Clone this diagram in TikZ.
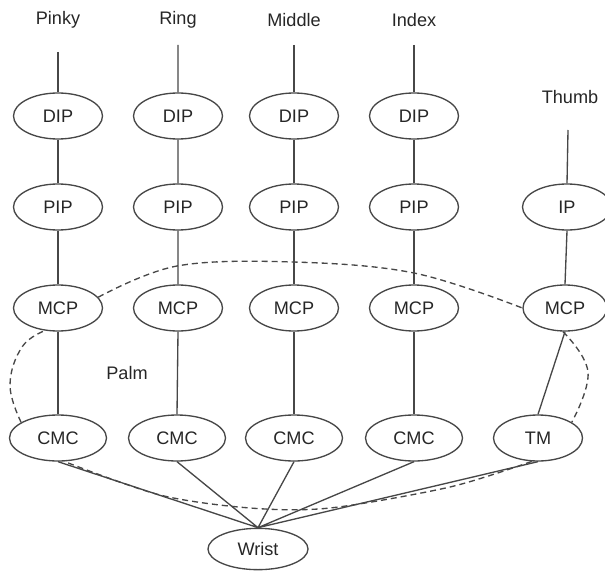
\documentclass[tikz,border=0pt]{standalone}
\usepackage{fontspec}
\setmainfont{Liberation Sans}
\usetikzlibrary{shapes.geometric}
\begin{document}
\begin{tikzpicture}[x=0.75pt,y=-0.75pt,
  every node/.style={font=\fontsize{13.6}{16}\selectfont, text=black!85},
  jnt/.style={ellipse, draw=black!72, line width=1pt, inner sep=0pt,
              minimum width=66.75pt, minimum height=34.5pt},
  wide/.style={jnt, minimum width=72.75pt},
  bone/.style={draw=black!72, line width=1pt},
  palm/.style={draw=black!72, line width=1pt, dash pattern=on 4.5pt off 3pt}]
\useasboundingbox (0,0) rectangle (605,570);
% labels
\node (lp) at (58,20) {Pinky};
\node (lr) at (178,20) {Ring};
\node (lm) at (294,20) {Middle};
\node (li) at (414,20) {Index};
\node (lt) at (570,97) {Thumb};
\node (lpalm) at (127,373) {Palm};
% tips
\coordinate (tp) at (58,52);
\coordinate (tr) at (178,45);
\coordinate (tmid) at (294,45);
\coordinate (ti) at (414,45);
\coordinate (tt) at (568,130);
% joints
\node[jnt] (pd) at (58,116) {DIP};
\node[jnt] (rd) at (178,116) {DIP};
\node[jnt] (md) at (294,116) {DIP};
\node[jnt] (id) at (414,116) {DIP};
\node[jnt] (pp) at (58,207) {PIP};
\node[jnt] (rp) at (178,207) {PIP};
\node[jnt] (mp) at (294,207) {PIP};
\node[jnt] (ip) at (414,207) {PIP};
\node[jnt] (tip) at (567,207) {IP};
\node[jnt] (pm) at (58,308) {MCP};
\node[jnt] (rm) at (178,308) {MCP};
\node[jnt] (mm) at (294,308) {MCP};
\node[jnt] (im) at (414,308) {MCP};
\node[jnt, minimum width=63pt] (tmcp) at (565,308) {MCP};
\node[wide] (pc) at (58,438) {CMC};
\node[wide] (rc) at (177,438) {CMC};
\node[wide] (mc) at (294,438) {CMC};
\node[wide] (ic) at (414,438) {CMC};
\node[jnt] (tm) at (538,438) {TM};
\node[jnt, minimum width=75pt, minimum height=31pt] (wr) at (258,549) {Wrist};
% bones
\draw[bone] (tp) -- (pd.north) (pd.south) -- (pp.north) (pp.south) -- (pm.north) (pm.south) -- (pc.north);
\draw[bone] (tr) -- (rd.north) (rd.south) -- (rp.north) (rp.south) -- (rm.north) (rm.south) -- (rc.north);
\draw[bone] (tmid) -- (md.north) (md.south) -- (mp.north) (mp.south) -- (mm.north) (mm.south) -- (mc.north);
\draw[bone] (ti) -- (id.north) (id.south) -- (ip.north) (ip.south) -- (im.north) (im.south) -- (ic.north);
\draw[bone] (tt) -- (tip.north) (tip.south) -- (tmcp.north);
\draw[bone] (tm.north) -- (tmcp.south);
\draw[bone] (pc.south) -- (wr.north) (rc.south) -- (wr.north) (mc.south) -- (wr.north)
            (ic.south) -- (wr.north) (tm.south) -- (wr.north);
% palm outline
\draw[palm] plot[smooth, tension=0.6] coordinates {(pm.15) (177,266) (293,262) (414,273) (tmcp.180)};
\draw[palm] plot[smooth, tension=0.7] coordinates {(tmcp.-95) (588,372) (tm.25)};
\draw[palm] plot[smooth, tension=0.5] coordinates {(tm.-105) (450,487) (330,508) (250,508) (160,495) (pc.-75)};
\draw[palm] plot[smooth, tension=0.7] coordinates {(pc.157) (10,385) (22,347) (pm.-120)};
\end{tikzpicture}
\end{document}
